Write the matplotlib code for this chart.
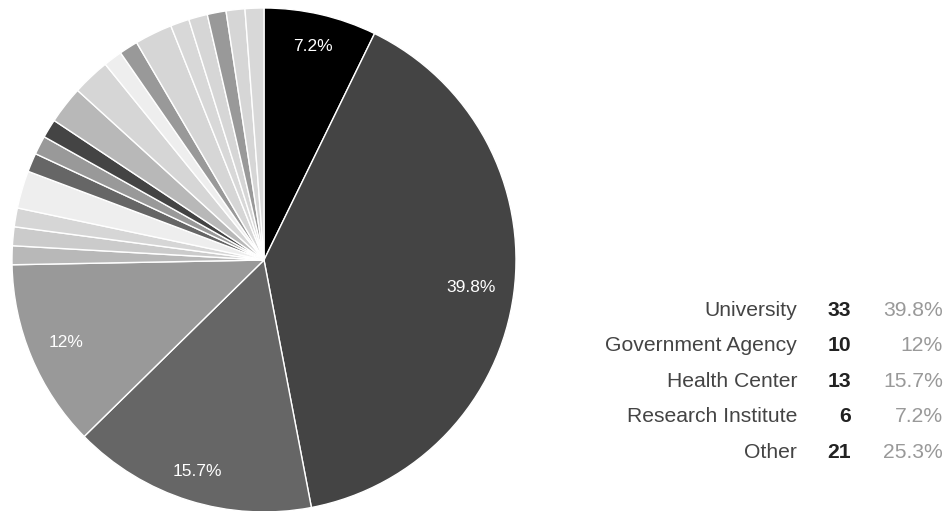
import matplotlib
matplotlib.use("Agg")
import matplotlib.pyplot as plt
import numpy as np

# Summary table (legend on the right)
categories = ["University", "Government Agency", "Health Center", "Research Institute", "Other"]
counts = [33, 10, 13, 6, 21]
pct_labels = ["39.8%", "12%", "15.7%", "7.2%", "25.3%"]

# Pie slices, clockwise from 12 o'clock
main_slices = ["Research Institute", "University", "Health Center", "Government Agency"]
main_colors = ["#000000", "#444444", "#666666", "#999999"]
# the "Other" group is drawn as its individual small entries
other_parts = [1, 1, 1, 2, 1, 1, 1, 2, 2, 1, 1, 2, 1, 1, 1, 1, 1]
other_colors = ["#b8b8b8", "#cbcbcb", "#d6d6d6", "#eeeeee", "#666666", "#999999",
                "#444444", "#b8b8b8", "#d6d6d6", "#eeeeee", "#999999", "#d6d6d6",
                "#d8d8d8", "#d6d6d6", "#999999", "#d6d6d6", "#d8d8d8"]

W, H = 947, 511
fig = plt.figure(figsize=(W / 100, H / 100), dpi=100)
fig.patch.set_facecolor("white")

FONT = ["Liberation Sans", "DejaVu Sans"]

# pie axes: centre (264, 260) px, radius 252 px
cx, cy, r = 264, 260, 252
ax = fig.add_axes([(cx - r) / W, (H - cy - r) / H, 2 * r / W, 2 * r / H])

lookup = dict(zip(categories, counts))
values = [lookup[c] for c in main_slices] + other_parts
colors = main_colors + other_colors

wedges, _ = ax.pie(values, colors=colors, startangle=90, counterclock=False,
                   radius=1.0, wedgeprops=dict(edgecolor="white", linewidth=1.0))
ax.set_xlim(-1, 1)
ax.set_ylim(-1, 1)
ax.set_aspect("equal")
ax.axis("off")

pct_lookup = dict(zip(categories, pct_labels))
label_r = [0.87, 0.83, 0.88, 0.85]
for w, name, lr in zip(wedges[:4], main_slices, label_r):
    mid = np.deg2rad((w.theta1 + w.theta2) / 2)
    ax.text(lr * np.cos(mid), lr * np.sin(mid), pct_lookup[name],
            ha="center", va="center", color="white", fontsize=12.5, family=FONT)

# table-style legend
row_y0, row_step = 310, 35.5
for i, (name, n, p) in enumerate(zip(categories, counts, pct_labels)):
    y = 1 - (row_y0 + i * row_step) / H
    fig.text(797 / W, y, name, ha="right", va="center", fontsize=15.2,
             color="#444444", family=FONT)
    fig.text(851 / W, y, str(n), ha="right", va="center", fontsize=15.2,
             color="#222222", fontweight="bold", family=FONT)
    fig.text(943 / W, y, p, ha="right", va="center", fontsize=15.2,
             color="#999999", family=FONT)

fig.savefig("out.png", dpi=100, facecolor="white")
